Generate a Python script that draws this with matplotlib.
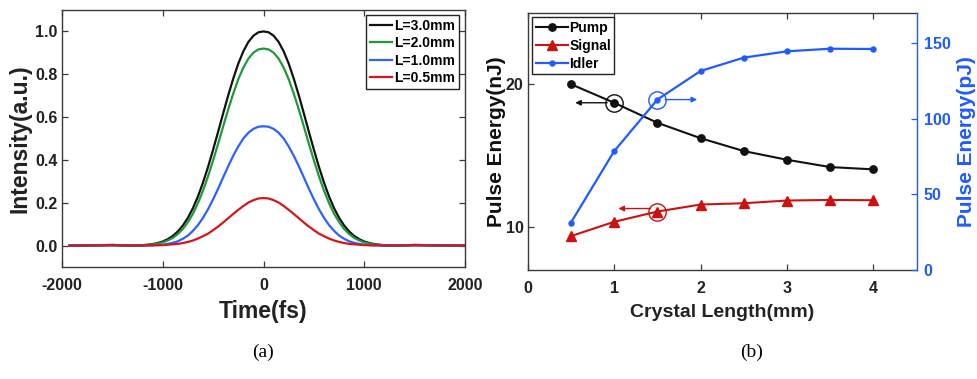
import matplotlib
matplotlib.use("Agg")
import matplotlib.pyplot as plt

plt.rcParams["font.family"] = ["Liberation Sans", "DejaVu Sans"]
plt.rcParams["font.weight"] = "bold"
plt.rcParams["axes.unicode_minus"] = False

# ---- (a) output pulse intensity profiles ----
T_FS = [-1925, -1750, -1500, -1300] + list(range(-1200, 1201, 50)) + [1300, 1500, 1750, 2000]

I_30 = [0.000, 0.001, 0.003, 0.000,
        0.002, 0.004, 0.007, 0.012, 0.019, 0.030, 0.045, 0.066, 0.094, 0.130, 0.175, 0.230,
        0.295, 0.368, 0.448, 0.532, 0.618, 0.702, 0.780, 0.850, 0.907, 0.951, 0.980, 0.996,
        1.000,
        0.996, 0.980, 0.951, 0.907, 0.850, 0.780, 0.702, 0.618, 0.532, 0.448, 0.368, 0.295,
        0.230, 0.175, 0.130, 0.094, 0.066, 0.045, 0.030, 0.019, 0.012, 0.007, 0.004, 0.002,
        0.000, 0.003, 0.001, 0.000]
I_20 = [0.000, 0.001, 0.003, 0.000,
        0.001, 0.003, 0.005, 0.009, 0.015, 0.024, 0.036, 0.054, 0.078, 0.110, 0.149, 0.199,
        0.257, 0.324, 0.398, 0.476, 0.557, 0.636, 0.710, 0.777, 0.831, 0.873, 0.901, 0.916,
        0.920,
        0.916, 0.901, 0.873, 0.831, 0.777, 0.710, 0.636, 0.557, 0.476, 0.398, 0.324, 0.257,
        0.199, 0.149, 0.110, 0.078, 0.054, 0.036, 0.024, 0.015, 0.009, 0.005, 0.003, 0.001,
        0.000, 0.003, 0.001, 0.000]
I_10 = [0.000, 0.001, 0.002, 0.000,
        0.000, 0.001, 0.001, 0.002, 0.004, 0.008, 0.013, 0.020, 0.032, 0.047, 0.069, 0.096,
        0.130, 0.170, 0.216, 0.266, 0.319, 0.371, 0.420, 0.463, 0.500, 0.527, 0.545, 0.555,
        0.557,
        0.555, 0.545, 0.527, 0.500, 0.463, 0.420, 0.371, 0.319, 0.266, 0.216, 0.170, 0.130,
        0.096, 0.069, 0.047, 0.032, 0.020, 0.013, 0.008, 0.004, 0.002, 0.001, 0.001, 0.000,
        0.000, 0.002, 0.001, 0.000]
I_05 = [0.000, 0.000, 0.001, 0.000,
        0.000, 0.001, 0.001, 0.002, 0.002, 0.004, 0.006, 0.008, 0.012, 0.017, 0.024, 0.033,
        0.044, 0.056, 0.072, 0.089, 0.108, 0.128, 0.148, 0.167, 0.185, 0.201, 0.212, 0.220,
        0.222,
        0.220, 0.212, 0.201, 0.185, 0.167, 0.148, 0.128, 0.108, 0.089, 0.072, 0.056, 0.044,
        0.033, 0.024, 0.017, 0.012, 0.008, 0.006, 0.004, 0.002, 0.002, 0.001, 0.001, 0.000,
        0.000, 0.001, 0.000, 0.000]
PROFILE_LABELS = ["L=3.0mm", "L=2.0mm", "L=1.0mm", "L=0.5mm"]
PROFILE_COLORS = ["#111111", "#1f9a3a", "#2b62ff", "#d4161c"]

# ---- (b) pulse energy vs crystal length ----
LENGTH_MM = [0.5, 1.0, 1.5, 2.0, 2.5, 3.0, 3.5, 4.0]
PUMP_NJ = [20.0, 18.7, 17.3, 16.22, 15.32, 14.71, 14.2, 14.04]
SIGNAL_NJ = [9.37, 10.37, 11.09, 11.58, 11.67, 11.86, 11.9, 11.88]
IDLER_PJ = [31.3, 78.5, 112.6, 131.5, 140.3, 144.5, 146.2, 146.0]

W, H = 977, 379
fig = plt.figure(figsize=(W / 100, H / 100), dpi=100)

SPINE = "#3a3a3a"
BLUE = "#1f5bff"
RED = "#cc1111"

def frac(x0, y0, x1, y1):
    return [x0 / W, 1 - y1 / H, (x1 - x0) / W, (y1 - y0) / H]

# panel (a)
ax1 = fig.add_axes(frac(62, 10, 465, 267))
for y, lab, c in zip([I_30, I_20, I_10, I_05], PROFILE_LABELS, PROFILE_COLORS):
    ax1.plot(T_FS, y, color=c, lw=1.6, label=lab)
ax1.set_xlim(-2000, 2000)
ax1.set_ylim(-0.1, 1.1)
ax1.set_xticks([-2000, -1000, 0, 1000, 2000])
ax1.set_yticks([0.0, 0.2, 0.4, 0.6, 0.8, 1.0])
ax1.set_yticklabels([f"{v:.1f}" for v in [0.0, 0.2, 0.4, 0.6, 0.8, 1.0]])
ax1.tick_params(direction="in", top=True, right=True, length=4, width=0.9,
                labelsize=11.5, colors=SPINE, labelcolor="#222222")
ax1.tick_params(axis="x", pad=8)
ax1.tick_params(axis="y", pad=3)
for s in ax1.spines.values():
    s.set_color(SPINE)
    s.set_linewidth(1.0)
ax1.set_xlabel("Time(fs)", fontsize=16.5, fontweight="bold", color="#222222", labelpad=5)
ax1.set_ylabel("Intensity(a.u.)", fontsize=16.5, fontweight="bold", color="#222222", labelpad=3)
leg1 = ax1.legend(loc="upper right", bbox_to_anchor=(0.985, 0.98), fontsize=10,
                  handlelength=1.6, handletextpad=0.2, borderpad=0.25, labelspacing=0.25,
                  fancybox=False, framealpha=1, edgecolor="#222222", borderaxespad=0)
leg1.get_frame().set_linewidth(1.0)
for t in leg1.get_texts():
    t.set_fontweight("bold")

# panel (b)
ax2 = fig.add_axes(frac(527.7, 12.7, 916.7, 270))
ax3 = ax2.twinx()
l_pump, = ax2.plot(LENGTH_MM, PUMP_NJ, color="#111111", lw=1.5, marker="o", ms=5.3, label="Pump")
l_sig, = ax2.plot(LENGTH_MM, SIGNAL_NJ, color=RED, lw=1.5, marker="^", ms=6.5, label="Signal")
l_idl, = ax3.plot(LENGTH_MM, IDLER_PJ, color=BLUE, lw=1.6, marker="o", ms=3.6, label="Idler")

ax2.set_xlim(0, 4.5)
ax2.set_ylim(7, 25)
ax3.set_ylim(0, 170)
ax2.set_xticks([0, 1, 2, 3, 4])
ax2.set_yticks([10, 20])
ax3.set_yticks([0, 50, 100, 150])
ax2.tick_params(direction="in", top=True, length=4, width=0.9, labelsize=11.5,
                colors=SPINE, labelcolor="#222222")
ax2.tick_params(axis="x", pad=8)
ax2.tick_params(axis="y", pad=3)
ax3.tick_params(direction="in", length=4, width=0.9, labelsize=11.5,
                colors=BLUE, labelcolor=BLUE, pad=5)
for s in ["left", "bottom", "top"]:
    ax2.spines[s].set_color(SPINE)
    ax2.spines[s].set_linewidth(1.0)
ax2.spines["right"].set_visible(False)
ax3.spines["right"].set_color(BLUE)
ax3.spines["right"].set_linewidth(1.0)
for s in ["left", "bottom", "top"]:
    ax3.spines[s].set_visible(False)

ax2.set_xlabel("Crystal Length(mm)", fontsize=14, fontweight="bold", color="#222222", labelpad=6)
ax2.set_ylabel("Pulse Energy(nJ)", fontsize=15, fontweight="bold", color="#111111", labelpad=0)
ax3.set_ylabel("Pulse Energy(pJ)", fontsize=15, fontweight="bold", color=BLUE, labelpad=5)

# circled points with arrows pointing to each curve's axis
circ = dict(marker="o", ms=12.5, mfc="none", lw=0, mew=1.0)
ax2.plot([LENGTH_MM[1]], [PUMP_NJ[1]], mec="#111111", **circ)
ax2.plot([LENGTH_MM[2]], [SIGNAL_NJ[2]], mec=RED, **circ)
ax3.plot([LENGTH_MM[2]], [IDLER_PJ[2]], mec=BLUE, **circ)
arr = dict(arrowstyle="-|>", lw=1.0, mutation_scale=8, shrinkA=0, shrinkB=0)
ax2.annotate("", xy=(0.55, PUMP_NJ[1]), xytext=(0.92, PUMP_NJ[1]),
             arrowprops=dict(color="#111111", **arr))
ax2.annotate("", xy=(1.05, 11.3), xytext=(1.42, 11.3),
             arrowprops=dict(color=RED, **arr))
ax3.annotate("", xy=(1.96, IDLER_PJ[2]), xytext=(1.59, IDLER_PJ[2]),
             arrowprops=dict(color=BLUE, **arr))

leg2 = ax3.legend(handles=[l_pump, l_sig, l_idl], loc="upper left",
                  bbox_to_anchor=(0.012, 0.983), fontsize=10, handlelength=2.3,
                  handletextpad=0.1, borderpad=0.25, labelspacing=0.3, fancybox=False,
                  framealpha=1, edgecolor="#222222", borderaxespad=0)
leg2.get_frame().set_linewidth(1.0)
for t in leg2.get_texts():
    t.set_fontweight("bold")

# panel captions
fig.text(263 / W, 1 - 352 / H, "(a)", ha="center", va="center",
         family=["Liberation Serif", "DejaVu Serif"], fontsize=14, fontweight="normal")
fig.text(752 / W, 1 - 352 / H, "(b)", ha="center", va="center",
         family=["Liberation Serif", "DejaVu Serif"], fontsize=14, fontweight="normal")

fig.savefig("out.png", dpi=100)
